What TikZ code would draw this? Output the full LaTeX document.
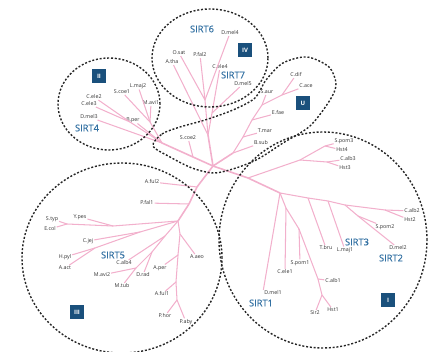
\documentclass[tikz,border=0pt]{standalone}
\usepackage{fontspec}
\setmainfont{Open Sans}
\newfontfamily\sirtfont[FakeBold=0.5]{Open Sans}
\definecolor{treepink}{RGB}{242,176,204}
\definecolor{sirtblue}{RGB}{50,112,162}
\definecolor{boxblue}{RGB}{26,80,124}
\definecolor{labelgray}{RGB}{50,50,50}
\begin{document}
\begin{tikzpicture}
[x=1pt,y=-1pt,
  leafdecorate/.style={inner sep=0.8pt,text=labelgray,font=\fontsize{5.3}{5.5}\selectfont},%
  sirtdecorate/.style={inner sep=0pt,text=sirtblue,font=\sirtfont\fontsize{9.3}{10}\selectfont},%
  boxdecorate/.style={fill=boxblue,text=white,minimum size=13.5pt,inner sep=0pt,font=\fontsize{6}{6}\selectfont\bfseries},%
  linedecorate/.style={-,treepink,line width=1.05pt},%
  trunkdecorate/.style={-,treepink,line width=1.6pt},%
  groupdecorate/.style={draw=black!85,line width=1.4pt,dash pattern=on 2pt off 1.8pt}]
\useasboundingbox (0,0) rectangle (429,352);
%% leaf labels
\foreach \nodename/\x/\y/\labeltext in {dmel4/230/33/D.mel4,
  osat/179/53/O.sat, atha/172/62/A.tha, pfal2/200/55/P.fal2,
  cele4/220/67/C.ele4, dmel5/243/84/D.mel5,
  cdif/296/75/C.dif, cace/306/86/C.ace, saur/267/92/S.aur,
  efae/278/113/E.fae, tmar/265/131/T.mar, bsub/261/143/B.sub,
  scoe2/188/138/S.coe2,
  scoe1/122/92/S.coe1, lmaj2/138/86/L.maj2, cele2/94/97/C.ele2,
  cele3/89/104/C.ele3, mavi1/151/103/M.avi1, dmel3/89/117/D.mel3,
  bper/133/120/B.per,
  spom3/344/141/S.pom3, hst4/342/150/Hst4, calb3/348/159/C.alb3,
  hst3/345/168/Hst3, calb2/412/211/C.alb2, hst2/410/220/Hst2,
  spom2/385/227/S.pom2, tbru/326/248/T.bru, lmaj1/345/250/L.maj1,
  dmel2/398/248/D.mel2, spom1/300/263/S.pom1, cele1/285/272/C.ele1,
  calb1/333/281/C.alb1, dmel1/273/293/D.mel1, sir2/315/313/Sir2,
  hst1/333/310/Hst1,
  aful2/152/182/A.ful2, pfal1/147/203/P.fal1, styp/52/219/S.typ,
  ypes/80/217/Y.pes, ecol/50/229/E.col, cjej/88/241/C.jej,
  hpyl/65/257/H.pyl, aact/65/268/A.act, calb4/124/263/C.alb4,
  mavi2/102/275/M.avi2, drad/143/275/D.rad, mtub/122/286/M.tub,
  aper/160/268/A.per, aaeo/197/257/A.aeo, aful1/162/294/A.ful1,
  phor/165/316/P.hor, paby/186/322/P.aby} {
  \node (\nodename) at (\x,\y) [leafdecorate] {\labeltext};
}
%% sirtuin names and class boxes
\foreach \nodename/\x/\y/\labeltext in {sirtsix/202/29/SIRT6,
  sirtseven/233/75/SIRT7, sirtfour/87/128/SIRT4, sirtfive/113/255/SIRT5,
  sirtthree/357/242/SIRT3, sirttwo/391/258/SIRT2, sirtone/261/303/SIRT1} {
  \node (\nodename) at (\x,\y) [sirtdecorate] {\labeltext};
}
\foreach \nodename/\x/\y/\labeltext in {boxtwo/99/76/II, boxfour/245/50/IV,
  boxu/303/103/U, boxthree/77/312/III, boxone/388/300/I} {
  \node (\nodename) at (\x,\y) [boxdecorate] {\labeltext};
}
%% inner points of the tree
\foreach \nodename/\x/\y in {root/213/166,
  s2/193/157, a2/162/143, n2a/130/122, n2b/150/122,
  a4/208/135, n4a/205/100, n4c/212/113,
  u1/233/153, u2/243/137, u3/252/120, u4/262/105, u5/282/95,
  i1/248/178, i3/300/160, i4/325/146, i5/327/162, i2/280/193,
  i6/308/198, i7/328/201, i10/345/205, i11/358/216, i8/385/210,
  i12/286/208, i13/299/229, i14/318/279, i15/322/295,
  t1/197/187, t2/189/204, t3/178/221, t4/113/226, n3a/67/224,
  n3b/140/232, n3c/95/248, n3d/165/236, n3f/152/252, n3e/136/268,
  t6/180/234, t7/178/255, t8/176/282, t9/177/300} {
  \coordinate (\nodename) at (\x,\y);
}
%% branches
\path
\foreach \startnode/\endnode in {root/s2, s2/a2, root/a4, root/u1, root/i1,
  i1/i2, root/t1, t1/t2, t2/t3} {
  (\startnode) edge[trunkdecorate] (\endnode)
};
\path
\foreach \startnode/\endnode in {s2/scoe2, a2/n2a, n2a/cele2, n2a/cele3,
  a2/dmel3, a2/bper, a2/n2b, n2b/lmaj2, n2b/scoe1, n2b/mavi1,
  a4/atha, a4/n4a, n4a/osat, n4a/pfal2, n4a/dmel4, a4/n4c, n4c/cele4,
  n4c/dmel5,
  u1/bsub, u1/u2, u2/tmar, u2/u3, u3/efae, u3/u4, u4/saur, u4/u5,
  u5/cdif, u5/cace,
  i1/i3, i3/i4, i4/spom3, i4/hst4, i3/i5, i5/calb3, i5/hst3,
  i2/i6, i6/tbru, i6/i7, i7/lmaj1, i7/i10, i10/i11, i11/spom2,
  i11/dmel2, i10/i8, i8/calb2, i8/hst2,
  i2/dmel1.north west, i2/i12, i12/cele1, i12/i13, i13/spom1, i13/i14,
  i14/calb1, i14/i15, i15/sir2, i15/hst1,
  t1/aful2, t2/pfal1, t3/t4, t4/ypes, t4/n3a, n3a/styp, n3a/ecol,
  t3/n3b, n3b/cjej, n3b/n3c, n3c/hpyl, n3c/aact,
  t3/n3d, n3d/calb4, n3d/n3f, n3f/drad, n3f/n3e, n3e/mavi2, n3e/mtub,
  t3/t6, t6/aaeo, t6/t7, t7/aper, t7/t8, t8/aful1, t8/t9, t9/phor,
  t9/paby} {
  (\startnode) edge[linedecorate] (\endnode)
};
%% class borders
\draw[groupdecorate] (109,104) ellipse [x radius=51pt, y radius=46pt];
\draw[groupdecorate] (210,58) ellipse [x radius=58pt, y radius=49pt];
\draw[groupdecorate] (122,258) ellipse [x radius=100pt, y radius=95pt];
\draw[groupdecorate] (323,240) ellipse [x radius=104pt, y radius=108pt];
\draw[groupdecorate] plot[smooth cycle] coordinates {(153,146) (162,134)
  (180,127) (205,120) (233,110) (255,98) (266,80) (283,63) (307,57)
  (329,67) (336,84) (330,100) (310,126) (283,143) (258,159) (236,168)
  (214,173) (192,168) (170,157)};
\end{tikzpicture}
\end{document}
